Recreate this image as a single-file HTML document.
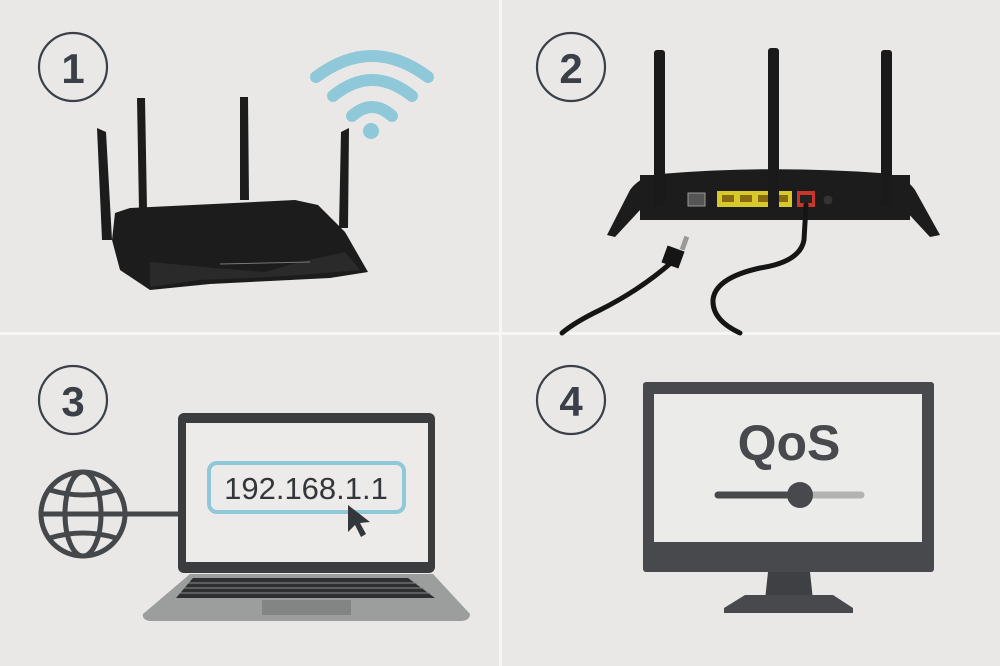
<!DOCTYPE html>
<html><head><meta charset="utf-8"><style>
html,body{margin:0;padding:0;background:#e9e8e6}
svg{display:block}
text{font-family:"Liberation Sans",sans-serif}
</style></head><body>
<svg width="1000" height="666" viewBox="0 0 1000 666" xmlns="http://www.w3.org/2000/svg">
<rect width="1000" height="666" fill="#e9e8e6"/>
<rect x="499" y="0" width="3" height="666" fill="#f6f6f4"/>
<rect x="0" y="332" width="1000" height="3" fill="#f6f6f4"/>

<!-- number circles -->
<g fill="none" stroke="#3b4048" stroke-width="2.2">
<circle cx="73" cy="67" r="34"/><circle cx="571" cy="67" r="34"/>
<circle cx="73" cy="400" r="34"/><circle cx="571" cy="400" r="34"/>
</g>
<g fill="#3b4048" font-size="42" font-weight="bold" text-anchor="middle">
<text x="73" y="83">1</text><text x="571" y="83">2</text>
<text x="73" y="416">3</text><text x="571" y="416">4</text>
</g>

<!-- Panel 1 router -->
<g fill="#1c1c1c">
<polygon points="97,128 106,132 112,240 102,240"/>
<polygon points="137,98 145,98 147,210 139,210"/>
<polygon points="240,97 248,97 249,200 240,200"/>
<polygon points="341,132 349,128 348,228 339,228"/>
<polygon points="115,213 130,208 295,200 318,205 345,232 368,272 330,278 270,281 210,284 150,290 120,270 112,240"/>
</g>
<polygon points="150,262 215,268 265,272 300,262 345,252 360,270 300,275 250,278 200,280 150,287" fill="#2a2a2a"/>
<line x1="220" y1="264" x2="310" y2="262" stroke="#777" stroke-width="1"/>
<!-- wifi -->
<g fill="none" stroke="#8fc8d8" stroke-width="12" stroke-linecap="round">
<path d="M316 77 Q372 35 428 77"/>
<path d="M333 96 Q372 64 412 96"/>
<path d="M352 116 Q372 98 392 116"/>
</g>
<circle cx="371" cy="131" r="8" fill="#8fc8d8"/>

<!-- Panel 2 router back -->
<path d="M607 235 L630 190 Q640 176 660 174 Q770 165 880 173 Q905 175 915 190 L940 235 L930 237 L905 210 L640 210 L615 237 Z" fill="#1c1c1c"/>
<rect x="640" y="175" width="270" height="45" fill="#1c1c1c"/>
<g fill="#1a1a1a">
<rect x="654" y="50" width="11" height="156" rx="3"/>
<rect x="768" y="48" width="11" height="158" rx="3"/>
<rect x="881" y="50" width="11" height="156" rx="3"/>
</g>
<rect x="688" y="193" width="17" height="13" fill="#555" stroke="#999" stroke-width="1"/>
<rect x="717" y="191" width="75" height="16" fill="#d8c92a"/>
<g fill="#8a6a10"><rect x="722" y="195" width="12" height="7"/><rect x="740" y="195" width="12" height="7"/><rect x="758" y="195" width="12" height="7"/><rect x="776" y="195" width="12" height="7"/></g>
<rect x="768" y="185" width="11" height="22" fill="#1a1a1a"/>
<rect x="797" y="191" width="18" height="16" fill="#c8352a"/>
<rect x="800" y="195" width="12" height="8" fill="#222"/>
<circle cx="828" cy="200" r="4.5" fill="#333"/>
<g fill="none" stroke="#151515" stroke-width="5" stroke-linecap="round">
<path d="M806 205 L804 240 Q800 262 760 268 Q715 278 713 300 Q712 320 740 333"/>
<path d="M672 262 Q640 290 600 310 Q575 322 562 333"/>
</g>
<rect x="664" y="248" width="18" height="18" fill="#151515" transform="rotate(20 673 257)"/>
<rect x="682" y="236" width="5" height="14" fill="#999" transform="rotate(20 684 243)"/>

<!-- Panel 3 laptop -->
<rect x="178" y="413" width="257" height="160" rx="6" fill="#3a3c3e"/>
<rect x="186" y="423" width="242" height="139" fill="#ecebe9"/>
<path d="M190 574 L433 574 L470 614 Q470 620 462 621 L150 621 Q142 620 143 614 Z" fill="#9c9d9d"/>
<polygon points="193,578 408,578 435,598 176,598" fill="#2e2f30"/>
<g stroke="#8a8b8b" stroke-width="1">
<line x1="188" y1="583" x2="418" y2="583"/><line x1="184" y1="588" x2="424" y2="588"/><line x1="180" y1="593" x2="430" y2="593"/>
</g>
<rect x="262" y="600" width="89" height="15" fill="#838585"/>
<rect x="209" y="463" width="195" height="49" rx="8" fill="none" stroke="#8fc8d8" stroke-width="4"/>
<text x="306" y="499" font-size="31" fill="#33363a" text-anchor="middle">192.168.1.1</text>
<path d="M348 505 L348 532 L355 525 L361 537 L366 534 L360 523 L370 522 Z" fill="#33363a"/>
<g fill="none" stroke="#45484b" stroke-width="5">
<circle cx="83" cy="514" r="42"/>
<ellipse cx="83" cy="514" rx="18" ry="42"/>
<line x1="41" y1="514" x2="178" y2="514"/>
<path d="M50 490 Q83 500 116 490"/>
<path d="M50 538 Q83 528 116 538"/>
</g>

<!-- Panel 4 monitor -->
<rect x="643" y="382" width="291" height="190" rx="3" fill="#47494c"/>
<rect x="654" y="394" width="268" height="148" fill="#ebebea"/>
<text x="789" y="460" font-size="50" font-weight="bold" fill="#47494c" text-anchor="middle">QoS</text>
<line x1="718" y1="495" x2="800" y2="495" stroke="#47494c" stroke-width="7" stroke-linecap="round"/>
<line x1="800" y1="495" x2="861" y2="495" stroke="#b3b3b3" stroke-width="7" stroke-linecap="round"/>
<circle cx="800" cy="495" r="13" fill="#47494c"/>
<polygon points="768,572 810,572 813,600 765,600" fill="#3e4043"/>
<polygon points="745,595 833,595 853,608 853,613 724,613 724,608" fill="#47494c"/>
</svg>
</body></html>
